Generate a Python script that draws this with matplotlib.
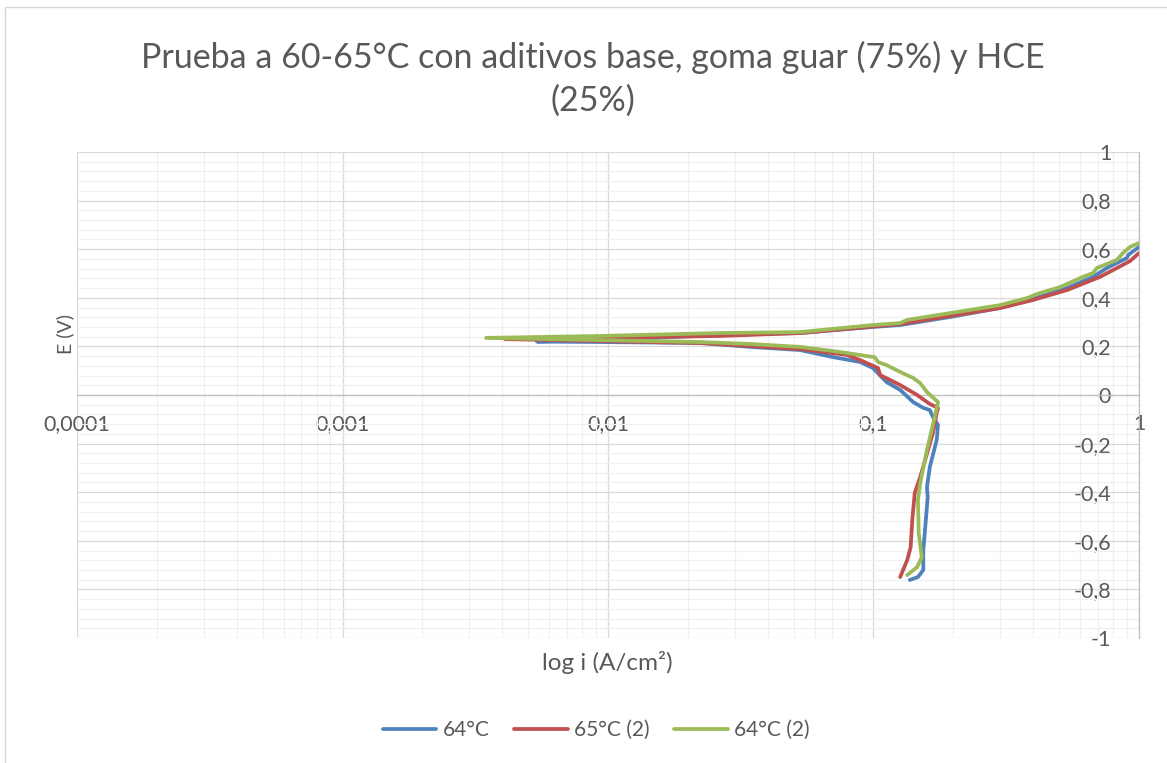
import matplotlib
matplotlib.use("Agg")
import matplotlib.pyplot as plt
from matplotlib.patches import Rectangle
from matplotlib.ticker import LogLocator, MultipleLocator, FixedLocator

plt.rcParams["font.family"] = ["Lato", "DejaVu Sans"]

# --- data (|i| in A/cm2, E in V), cathodic -> anodic ---
i_64 = [0.137, 0.147, 0.154, 0.154, 0.156, 0.160, 0.159, 0.163, 0.173, 0.175,
        0.1675, 0.163, 0.154, 0.141, 0.126, 0.112, 0.0995, 0.0889, 0.0704, 0.0529,
        0.0343, 0.0222, 0.00933, 0.0054,
        0.00933, 0.0264, 0.0529, 0.0995, 0.126, 0.194, 0.300, 0.399, 0.536, 0.671,
        0.758, 0.901, 0.910, 1.0]
e_64 = [-0.761, -0.749, -0.720, -0.638, -0.568, -0.420, -0.379, -0.296, -0.185, -0.123,
        -0.091, -0.062, -0.053, -0.029, 0.021, 0.053, 0.111, 0.136, 0.156, 0.185,
        0.198, 0.214, 0.218, 0.220,
        0.226, 0.247, 0.255, 0.280, 0.288, 0.321, 0.358, 0.395, 0.440, 0.486,
        0.523, 0.564, 0.576, 0.609]

i_65_2 = [0.126, 0.134, 0.138, 0.140, 0.143, 0.150, 0.1675, 0.173, 0.175, 0.163,
          0.146, 0.126, 0.106, 0.104, 0.0889, 0.0794, 0.0529, 0.0222, 0.00933, 0.00409,
          0.00933, 0.0264, 0.0529, 0.126, 0.194, 0.300, 0.399, 0.536, 0.713, 0.925, 1.0]
e_65_2 = [-0.749, -0.679, -0.626, -0.514, -0.403, -0.337, -0.156, -0.074, -0.053, -0.037,
          0.0, 0.041, 0.082, 0.111, 0.144, 0.165, 0.189, 0.214, 0.222, 0.230,
          0.235, 0.243, 0.255, 0.292, 0.325, 0.358, 0.391, 0.432, 0.486, 0.551, 0.584]

i_64_2 = [0.134, 0.146, 0.152, 0.148, 0.147, 0.150, 0.159, 0.170, 0.175, 0.159,
          0.150, 0.141, 0.126, 0.112, 0.104, 0.101, 0.0945, 0.0794, 0.0704, 0.0529,
          0.0343, 0.0222, 0.00933, 0.00347,
          0.00933, 0.0264, 0.0529, 0.0995, 0.126, 0.134, 0.194, 0.300, 0.379, 0.413,
          0.504, 0.615, 0.671, 0.695, 0.826, 0.870, 0.925, 1.0]
e_64_2 = [-0.741, -0.708, -0.667, -0.568, -0.432, -0.362, -0.226, -0.091, -0.029, 0.012,
          0.049, 0.070, 0.095, 0.123, 0.136, 0.156, 0.160, 0.173, 0.181, 0.198,
          0.210, 0.218, 0.226, 0.235,
          0.243, 0.255, 0.259, 0.288, 0.296, 0.309, 0.337, 0.370, 0.399, 0.416,
          0.444, 0.486, 0.502, 0.523, 0.556, 0.584, 0.609, 0.626]

series = [
    ("64°C", i_64, e_64, "#4F81BD"),
    ("65°C (2)", i_65_2, e_65_2, "#C0504D"),
    ("64°C (2)", i_64_2, e_64_2, "#9BBB59"),
]

x_ticks = [0.0001, 0.001, 0.01, 0.1, 1]
x_labels = ["0,0001", "0,001", "0,01", "0,1", "1"]
y_ticks = [-1, -0.8, -0.6, -0.4, -0.2, 0, 0.2, 0.4, 0.6, 0.8, 1]
y_labels = ["-1", "-0,8", "-0,6", "-0,4", "-0,2", "0", "0,2", "0,4", "0,6", "0,8", "1"]

text_color = "#595959"

fig = plt.figure(figsize=(11.67, 7.63), dpi=100)
fig.patches.append(Rectangle((0.004, -0.5), 1.5, 1.491, transform=fig.transFigure,
                             fill=False, edgecolor="#d9d9d9", linewidth=1.0))

ax = fig.add_axes([0.066, 0.1638, 0.910, 0.637])
ax.set_xscale("log")
ax.set_xlim(0.0001, 1)
ax.set_ylim(-1, 1)

for label, xs, ys, color in series:
    ax.plot(xs, ys, color=color, linewidth=2.7, label=label, solid_capstyle="round",
            solid_joinstyle="round", zorder=3)

# gridlines (excel style)
ax.xaxis.set_major_locator(FixedLocator(x_ticks))
ax.xaxis.set_minor_locator(LogLocator(base=10, subs=range(2, 10)))
ax.yaxis.set_major_locator(FixedLocator(y_ticks))
ax.yaxis.set_minor_locator(MultipleLocator(0.04))
ax.grid(True, which="major", color="#d9d9d9", linewidth=0.9, zorder=0)
ax.grid(True, which="minor", color="#f0f0f0", linewidth=0.9, zorder=0)
ax.set_axisbelow(True)

# axes cross: horizontal axis at E=0, vertical axis at i=1
for s in ["top", "right"]:
    ax.spines[s].set_visible(False)
ax.spines["bottom"].set_position(("data", 0))
ax.spines["left"].set_position(("data", 1))
ax.spines["bottom"].set_color("#bfbfbf")
ax.spines["left"].set_color("#bfbfbf")
ax.spines["bottom"].set_linewidth(0.9)
ax.spines["left"].set_linewidth(0.9)

ax.set_xticklabels(x_labels)
ax.set_yticklabels(y_labels)
ax.tick_params(which="both", length=0)
ax.tick_params(axis="x", pad=14, labelsize=15.5, labelcolor=text_color)
ax.tick_params(axis="y", pad=20, labelsize=15.5, labelcolor=text_color)

fig.text(0.508, 0.897, "Prueba a 60-65°C con aditivos base, goma guar (75%) y HCE\n(25%)",
         ha="center", va="center", fontsize=24.5, color=text_color,
         linespacing=1.4)
fig.text(0.056, 0.562, "E (V)", rotation=90, ha="center", va="center", fontsize=14,
         color=text_color)
fig.text(0.520, 0.132, "log i (A/cm²)", ha="center", va="center", fontsize=17.5,
         color=text_color)

fig.legend(loc="center", bbox_to_anchor=(0.511, 0.043), ncol=3, frameon=False,
           fontsize=15, handlelength=2.55, columnspacing=1.2, handletextpad=0.3,
           labelcolor=text_color)

fig.savefig("out.png", dpi=100)
